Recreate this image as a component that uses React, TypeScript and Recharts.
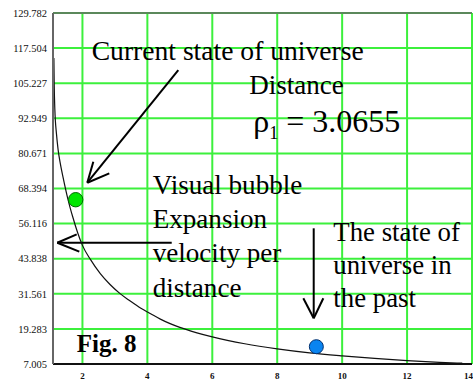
import React from 'react';
import {
  ComposedChart,
  Line,
  Scatter,
  XAxis,
  YAxis,
  CartesianGrid,
  ReferenceLine,
  ReferenceDot,
} from 'recharts';

// Axis ticks
const xTicks = [2, 4, 6, 8, 10, 12, 14];
const yTicks = [7.005, 19.283, 31.561, 43.838, 56.116, 68.394, 80.671, 92.949, 105.227, 117.504, 129.782];

// Expansion velocity per distance curve
const curveX = [1.12, 1.13, 1.15, 1.2, 1.25, 1.32, 1.4, 1.55, 1.7, 1.85, 2.0, 2.25, 2.55, 2.85, 3.15, 3.45, 3.8, 4.1, 4.4, 5.0, 5.5, 6.0, 7.0, 8.0, 9.0, 10.0, 11.0, 12.0, 13.0, 13.7];
const curveY = [114.0, 105.0, 96.0, 87.5, 82.0, 77.0, 72.5, 64.8, 58.5, 53.0, 48.5, 43.5, 38.6, 34.8, 31.7, 29.2, 26.5, 24.6, 22.7, 19.8, 18.0, 16.5, 14.1, 12.3, 10.9, 9.85, 8.95, 8.2, 7.6, 7.3];

// Highlighted states
const currentState = [{ x: 1.792, y: 64.47 }];
const pastState = [{ x: 9.205, y: 13.06 }];

// Arrow shafts and heads (data coordinates)
const arrows: [number, number, number, number][] = [
  [4.953, 109.84, 2.15, 70.42],
  [2.15, 70.42, 2.335, 77.77],
  [2.15, 70.42, 2.827, 73.71],
  [4.75, 49.43, 1.225, 49.43],
  [1.225, 49.43, 1.823, 52.37],
  [1.225, 49.43, 1.903, 46.29],
  [9.124, 54.47, 9.124, 22.99],
  [9.124, 22.99, 8.804, 29.99],
  [9.124, 22.99, 9.42, 29.99],
];

// Text notes anchored at baseline-left points
const notes = [
  { x: 2.285, y: 113.34, lines: ['Current state of universe'], lh: 34, size: 27.6 },
  { x: 7.14, y: 101.45, lines: ['Distance'], lh: 34, size: 27 },
  { x: 4.164, y: 66.37, lines: ['Visual bubble', 'Expansion', 'velocity per', 'distance'], lh: 34.1, size: 27.1 },
  { x: 9.728, y: 50.13, lines: ['The state of', 'universe in', 'the past'], lh: 33, size: 26.8 },
];
const rhoNote = { x: 7.264, y: 88.26, label: 'ρ', sub: '1', value: ' = 3.0655' };
const figNote = { x: 1.823, y: 11.31, label: 'Fig. 8' };

const curve = curveX.map((x, i) => ({ x, y: curveY[i] }));

const serif = '"Liberation Serif", "Times New Roman", serif';

export default function App() {
  return (
    <div style={{ position: 'absolute', left: 0, top: 0, width: 473, height: 381, background: '#fff' }}>
      <ComposedChart width={473} height={381} data={curve} margin={{ top: 13, right: 1, bottom: 0, left: 0 }}>
        <CartesianGrid stroke="#3cf03c" strokeWidth={2} />
        <XAxis
          type="number"
          dataKey="x"
          domain={[1.093, 14]}
          ticks={xTicks}
          allowDataOverflow
          height={17}
          tickLine={false}
          tickSize={0}
          tickMargin={9}
          axisLine={{ stroke: '#111', strokeWidth: 2 }}
          tick={{ fontFamily: serif, fontSize: 9, fontWeight: 'bold', fill: '#111' }}
        />
        <YAxis
          type="number"
          domain={[7.005, 129.782]}
          ticks={yTicks}
          allowDataOverflow
          width={53}
          tickLine={false}
          tickSize={0}
          tickMargin={6}
          axisLine={{ stroke: '#666', strokeWidth: 2 }}
          tickFormatter={(v: number) => v.toFixed(3)}
          tick={{ fontFamily: serif, fontSize: 10.5, fill: '#111' }}
        />
        <ReferenceLine y={129.782} stroke="#666" strokeWidth={1.5} />
        {notes.map((n, i) => (
          <ReferenceDot
            key={'n' + i}
            x={n.x}
            y={n.y}
            r={0}
            ifOverflow="visible"
            shape={(p: any) => (
              <text x={p.cx} y={p.cy} fontFamily={serif} fontSize={n.size} fill="#000">
                {n.lines.map((t, j) => (
                  <tspan key={j} x={p.cx} dy={j === 0 ? 0 : n.lh}>
                    {t}
                  </tspan>
                ))}
              </text>
            )}
          />
        ))}
        <ReferenceDot
          x={rhoNote.x}
          y={rhoNote.y}
          r={0}
          ifOverflow="visible"
          shape={(p: any) => (
            <text x={p.cx} y={p.cy} fontFamily={serif} fontSize={32} fill="#000">
              <tspan>{rhoNote.label}</tspan>
              <tspan fontSize={18} dy={7}>{rhoNote.sub}</tspan>
              <tspan dy={-7}>{rhoNote.value}</tspan>
            </text>
          )}
        />
        <ReferenceDot
          x={figNote.x}
          y={figNote.y}
          r={0}
          ifOverflow="visible"
          shape={(p: any) => (
            <text x={p.cx} y={p.cy} fontFamily={serif} fontSize={25} fontWeight="bold" fill="#000">
              {figNote.label}
            </text>
          )}
        />
        {arrows.map((a, i) => (
          <ReferenceLine
            key={'a' + i}
            segment={[{ x: a[0], y: a[1] }, { x: a[2], y: a[3] }]}
            stroke="#000"
            strokeWidth={2}
            ifOverflow="visible"
          />
        ))}
        <Line
          type="monotoneX"
          dataKey="y"
          stroke="#111"
          strokeWidth={1.2}
          dot={false}
          activeDot={false}
          isAnimationActive={false}
        />
        <Scatter
          data={currentState}
          dataKey="y"
          isAnimationActive={false}
          shape={(p: any) => <circle cx={p.cx} cy={p.cy} r={7.2} fill="#00e600" stroke="#006600" strokeWidth={1} />}
        />
        <Scatter
          data={pastState}
          dataKey="y"
          isAnimationActive={false}
          shape={(p: any) => <circle cx={p.cx} cy={p.cy} r={7} fill="#0a84f0" stroke="#003070" strokeWidth={1} />}
        />
      </ComposedChart>
    </div>
  );
}
